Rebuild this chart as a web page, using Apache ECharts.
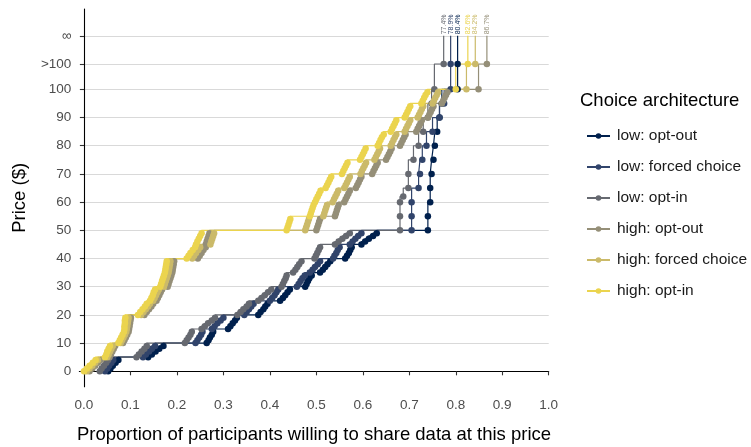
<!DOCTYPE html>
<html>
<head>
<meta charset="utf-8">
<script src="https://cdn.jsdelivr.net/npm/echarts@6/dist/echarts.min.js"></script>
<style>
  html, body { margin: 0; padding: 0; background: #ffffff; overflow: hidden; }
  #chart { width: 751px; height: 447px; }
</style>
</head>
<body>
<div id="chart"></div>
<script>
// Price levels used for the two open-ended answers on the price axis
const PRICE_ABOVE_100 = 109;
const PRICE_NEVER = 119;

// Tick labels
const xTicks = [0, 0.1, 0.2, 0.3, 0.4, 0.5, 0.6, 0.7, 0.8, 0.9, 1.0];
const yTicks = [0, 10, 20, 30, 40, 50, 60, 70, 80, 90, 100, PRICE_ABOVE_100, PRICE_NEVER];
const yTickLabels = ['0', '10', '20', '30', '40', '50', '60', '70', '80', '90', '100', '>100', '\u221e'];

// Series names and colours (legend order)
const seriesNames = ['low: opt-out', 'low: forced choice', 'low: opt-in',
                     'high: opt-out', 'high: forced choice', 'high: opt-in'];
const seriesColors = ['#00204D', '#31446B', '#666970', '#958F78', '#CBBA69', '#EBD44E'];

// [share willing, price] for each condition
const lowOptOut = [
  [0.052,0],[0.057,1],[0.062,2],[0.068,3],[0.074,4],
  [0.138,5],[0.146,6],[0.154,7],[0.162,8],[0.171,9],
  [0.264,10],[0.268,11],[0.271,12],[0.275,13],[0.278,14],
  [0.310,15],[0.315,16],[0.320,17],[0.325,18],[0.329,19],
  [0.375,20],[0.380,21],[0.386,22],[0.390,23],[0.395,24],
  [0.422,25],[0.428,26],[0.433,27],[0.438,28],[0.443,29],
  [0.476,30],[0.479,31],[0.482,32],[0.485,33],[0.490,34],
  [0.508,35],[0.514,36],[0.519,37],[0.524,38],[0.530,39],
  [0.562,40],[0.566,41],[0.570,42],[0.573,43],[0.576,44],
  [0.597,45],[0.605,46],[0.613,47],[0.622,48],[0.630,49],
  [0.740,50],[0.740,55],[0.745,60],[0.745,65],[0.748,70],[0.752,75],
  [0.755,80],[0.760,85],[0.765,90],[0.770,95],[0.804,100],
  [0.804,PRICE_ABOVE_100],[0.804,PRICE_NEVER]
];
const lowForced = [
  [0.045,0],[0.050,1],[0.054,2],[0.059,3],[0.063,4],
  [0.127,5],[0.133,6],[0.140,7],[0.146,8],[0.153,9],
  [0.240,10],[0.244,11],[0.248,12],[0.252,13],[0.255,14],
  [0.275,15],[0.281,16],[0.287,17],[0.294,18],[0.300,19],
  [0.345,20],[0.350,21],[0.355,22],[0.360,23],[0.365,24],
  [0.400,25],[0.405,26],[0.410,27],[0.414,28],[0.418,29],
  [0.458,30],[0.462,31],[0.466,32],[0.470,33],[0.475,34],
  [0.486,35],[0.492,36],[0.497,37],[0.503,38],[0.508,39],
  [0.536,40],[0.539,41],[0.543,42],[0.546,43],[0.550,44],
  [0.572,45],[0.578,46],[0.584,47],[0.590,48],[0.597,49],
  [0.705,50],[0.705,55],[0.705,60],[0.720,65],[0.723,70],[0.728,75],
  [0.737,80],[0.750,85],[0.765,90],[0.775,95],[0.789,100],
  [0.789,PRICE_ABOVE_100],[0.789,PRICE_NEVER]
];
const lowOptIn = [
  [0.034,0],[0.038,1],[0.043,2],[0.048,3],[0.052,4],
  [0.113,5],[0.118,6],[0.124,7],[0.130,8],[0.135,9],
  [0.217,10],[0.221,11],[0.225,12],[0.229,13],[0.232,14],
  [0.253,15],[0.260,16],[0.267,17],[0.275,18],[0.282,19],
  [0.330,20],[0.337,21],[0.343,22],[0.350,23],[0.355,24],
  [0.375,25],[0.382,26],[0.389,27],[0.396,28],[0.403,29],
  [0.425,30],[0.428,31],[0.431,32],[0.434,33],[0.436,34],
  [0.450,35],[0.455,36],[0.459,37],[0.463,38],[0.468,39],
  [0.496,40],[0.499,41],[0.502,42],[0.505,43],[0.508,44],
  [0.540,45],[0.548,46],[0.556,47],[0.564,48],[0.572,49],
  [0.680,50],[0.680,55],[0.680,60],[0.687,62],[0.698,65],[0.698,70],
  [0.709,75],[0.720,80],[0.730,85],[0.740,90],[0.748,95],[0.754,100],
  [0.774,PRICE_ABOVE_100],[0.774,PRICE_NEVER]
];
const highOptOut = [
  [0.012,0],[0.018,1],[0.024,2],[0.030,3],[0.036,4],
  [0.055,5],[0.058,6],[0.061,7],[0.064,8],[0.067,9],
  [0.084,10],[0.087,11],[0.090,12],[0.093,13],[0.096,14],
  [0.097,15],[0.098,16],[0.099,17],[0.100,18],[0.101,19],
  [0.130,20],[0.135,21],[0.140,22],[0.145,23],[0.149,24],
  [0.156,25],[0.159,26],[0.162,27],[0.165,28],[0.168,29],
  [0.180,30],[0.182,31],[0.184,32],[0.186,33],[0.188,34],
  [0.190,35],[0.191,36],[0.192,37],[0.193,38],[0.194,39],
  [0.245,40],[0.249,41],[0.253,42],[0.257,43],[0.262,44],
  [0.262,45],[0.264,46],[0.266,47],[0.268,48],[0.270,49],
  [0.500,50],[0.502,51],[0.504,52],[0.506,53],[0.508,54],
  [0.540,55],[0.542,56],[0.544,57],[0.546,58],[0.548,59],
  [0.560,60],[0.563,61],[0.566,62],[0.569,63],[0.572,64],
  [0.585,65],[0.588,66],[0.591,67],[0.594,68],[0.597,69],
  [0.620,70],[0.623,71],[0.626,72],[0.629,73],[0.632,74],
  [0.650,75],[0.653,76],[0.656,77],[0.659,78],[0.662,79],
  [0.680,80],[0.683,81],[0.686,82],[0.689,83],[0.692,84],
  [0.715,85],[0.718,86],[0.721,87],[0.724,88],[0.727,89],
  [0.740,90],[0.743,91],[0.746,92],[0.749,93],[0.752,94],
  [0.770,95],[0.773,96],[0.776,97],[0.779,98],[0.782,99],
  [0.849,100],[0.867,PRICE_ABOVE_100],[0.867,PRICE_NEVER]
];
const highForced = [
  [0.006,0],[0.012,1],[0.018,2],[0.024,3],[0.030,4],
  [0.050,5],[0.053,6],[0.056,7],[0.059,8],[0.062,9],
  [0.079,10],[0.082,11],[0.085,12],[0.088,13],[0.091,14],
  [0.092,15],[0.093,16],[0.094,17],[0.095,18],[0.096,19],
  [0.123,20],[0.128,21],[0.133,22],[0.138,23],[0.142,24],
  [0.149,25],[0.152,26],[0.155,27],[0.158,28],[0.161,29],
  [0.172,30],[0.174,31],[0.176,32],[0.178,33],[0.180,34],
  [0.182,35],[0.183,36],[0.184,37],[0.185,38],[0.186,39],
  [0.233,40],[0.237,41],[0.241,42],[0.246,43],[0.250,44],
  [0.272,45],[0.274,46],[0.276,47],[0.278,48],[0.280,49],
  [0.476,50],[0.478,51],[0.480,52],[0.482,53],[0.484,54],
  [0.515,55],[0.517,56],[0.519,57],[0.521,58],[0.523,59],
  [0.535,60],[0.538,61],[0.541,62],[0.544,63],[0.547,64],
  [0.560,65],[0.563,66],[0.566,67],[0.569,68],[0.572,69],
  [0.595,70],[0.598,71],[0.601,72],[0.604,73],[0.607,74],
  [0.625,75],[0.628,76],[0.631,77],[0.634,78],[0.637,79],
  [0.660,80],[0.663,81],[0.666,82],[0.669,83],[0.672,84],
  [0.690,85],[0.693,86],[0.696,87],[0.699,88],[0.702,89],
  [0.718,90],[0.721,91],[0.724,92],[0.727,93],[0.730,94],
  [0.750,95],[0.753,96],[0.756,97],[0.759,98],[0.762,99],
  [0.823,100],[0.842,PRICE_ABOVE_100],[0.842,PRICE_NEVER]
];
const highOptIn = [
  [0.000,0],[0.006,1],[0.012,2],[0.019,3],[0.025,4],
  [0.045,5],[0.048,6],[0.050,7],[0.053,8],[0.056,9],
  [0.074,10],[0.077,11],[0.080,12],[0.083,13],[0.086,14],
  [0.087,15],[0.087,16],[0.088,17],[0.088,18],[0.089,19],
  [0.116,20],[0.121,21],[0.126,22],[0.131,23],[0.135,24],
  [0.142,25],[0.145,26],[0.148,27],[0.150,28],[0.153,29],
  [0.164,30],[0.166,31],[0.168,32],[0.170,33],[0.172,34],
  [0.174,35],[0.175,36],[0.176,37],[0.177,38],[0.178,39],
  [0.221,40],[0.225,41],[0.229,42],[0.234,43],[0.239,44],
  [0.241,45],[0.244,46],[0.247,47],[0.250,48],[0.253,49],
  [0.436,50],[0.438,51],[0.440,52],[0.442,53],[0.444,54],
  [0.486,55],[0.488,56],[0.490,57],[0.492,58],[0.494,59],
  [0.497,60],[0.500,61],[0.503,62],[0.506,63],[0.509,64],
  [0.520,65],[0.523,66],[0.526,67],[0.529,68],[0.532,69],
  [0.555,70],[0.558,71],[0.561,72],[0.564,73],[0.567,74],
  [0.594,75],[0.597,76],[0.600,77],[0.603,78],[0.606,79],
  [0.632,80],[0.635,81],[0.638,82],[0.641,83],[0.645,84],
  [0.660,85],[0.663,86],[0.666,87],[0.669,88],[0.672,89],
  [0.690,90],[0.693,91],[0.696,92],[0.699,93],[0.702,94],
  [0.726,95],[0.729,96],[0.732,97],[0.735,98],[0.739,99],
  [0.800,100],[0.826,PRICE_ABOVE_100],[0.826,PRICE_NEVER]
];

const seriesData = [lowOptOut, lowForced, lowOptIn, highOptOut, highForced, highOptIn];

const FONT = 'Liberation Sans, Arial, sans-serif';

function buildSeries(name, color, points) {
  const last = points.length - 1;
  return {
    name: name,
    type: 'line',
    step: 'start',
    symbol: 'circle',
    symbolSize: 6.5,
    showSymbol: true,
    animation: false,
    lineStyle: { color: color, width: 1.2 },
    itemStyle: { color: color },
    emphasis: { disabled: true },
    data: points.map(function (pt, i) {
      if (i !== last) return pt;
      // top level: invisible marker, share printed above it
      return {
        value: pt,
        symbolSize: 1,
        itemStyle: { color: 'rgba(0,0,0,0)' },
        label: {
          show: true,
          position: 'top',
          distance: 1,
          rotate: 90,
          align: 'left',
          verticalAlign: 'middle',
          fontSize: 7,
          fontFamily: FONT,
          color: color,
          formatter: (pt[0] * 100).toFixed(1) + '%'
        }
      };
    })
  };
}

const chart = echarts.init(document.getElementById('chart'), null, { renderer: 'canvas' });

chart.setOption({
  animation: false,
  backgroundColor: '#ffffff',
  grid: { left: 79.35, right: 202.3, top: 9, bottom: 60.3, containLabel: false, outerBoundsMode: 'none' },
  xAxis: {
    type: 'value',
    min: -0.01,
    max: 1.0,
    name: 'Proportion of participants willing to share data at this price',
    nameLocation: 'middle',
    nameGap: 39,
    nameTextStyle: { fontSize: 18.5, color: '#000000', fontFamily: FONT },
    axisLine: { show: true, lineStyle: { color: '#000000', width: 1.1 } },
    axisTick: { show: true, length: 4, customValues: xTicks, lineStyle: { color: '#333333', width: 1.1 } },
    axisLabel: {
      customValues: xTicks,
      margin: 12,
      fontSize: 13.5,
      color: '#4D4D4D',
      fontFamily: FONT,
      formatter: function (v) { return v.toFixed(1); }
    },
    splitLine: { show: false }
  },
  yAxis: {
    type: 'value',
    min: -5.46,
    max: 128.5,
    name: 'Price ($)',
    nameLocation: 'middle',
    nameGap: 50,
    nameRotate: 90,
    nameTextStyle: { fontSize: 18.5, color: '#000000', fontFamily: FONT },
    axisLine: { show: true, lineStyle: { color: '#000000', width: 1.1 } },
    axisTick: { show: true, length: 4, customValues: yTicks, lineStyle: { color: '#333333', width: 1.1 } },
    axisLabel: {
      customValues: yTicks,
      margin: 8,
      fontSize: 13.5,
      color: '#4D4D4D',
      fontFamily: FONT,
      formatter: function (v) {
        const idx = yTicks.indexOf(v);
        return idx >= 0 ? yTickLabels[idx] : '';
      }
    },
    splitLine: { show: true, lineStyle: { color: '#D9D9D9', width: 1.1 } }
  },
  legend: {
    orient: 'vertical',
    left: 581,
    top: 123,
    itemWidth: 23,
    itemHeight: 7,
    itemGap: 15,
    data: seriesNames,
    textStyle: { fontSize: 15.5, color: '#1A1A1A', fontFamily: FONT, padding: [0, 0, 0, 2] }
  },
  graphic: [{
    type: 'text',
    left: 580,
    top: 91,
    style: { text: 'Choice architecture', fill: '#000000', font: '18.5px ' + FONT }
  }],
  series: seriesNames.map(function (n, i) { return buildSeries(n, seriesColors[i], seriesData[i]); })
});
</script>
</body>
</html>
